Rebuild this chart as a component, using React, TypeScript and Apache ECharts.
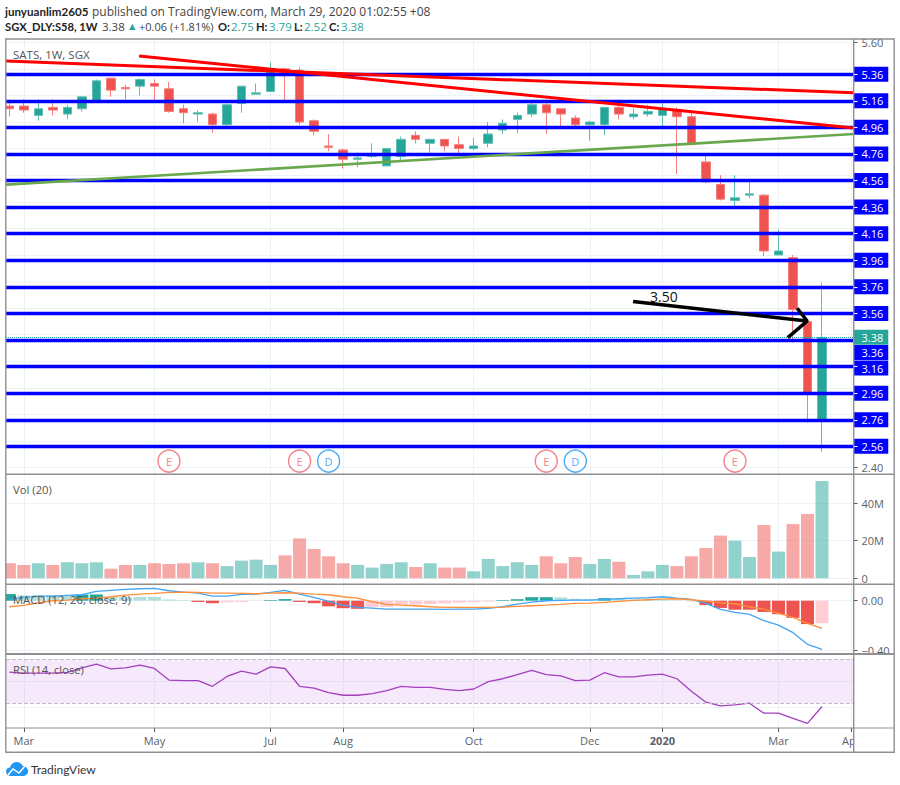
import React, { useEffect, useRef } from "react";
import * as echarts from "echarts";

const FONT = "'Open Sans', 'Noto Sans', sans-serif";
const BOLD_FONT = "Lato, 'Noto Sans', sans-serif";
const UP = "#26a69a";
const DOWN = "#ef5350";

const candleOpen = [5.12,5.12,5.05,5.11,5.06,5.10,5.15,5.33,5.26,5.27,5.29,5.25,5.10,5.06,5.06,4.98,5.14,5.21,5.23,5.40,5.39,5.01,4.82,4.79,4.72,4.74,4.67,4.74,4.90,4.84,4.87,4.83,4.80,4.84,4.94,5.02,5.06,5.13,5.10,5.03,4.98,4.98,5.11,5.04,5.06,5.05,5.09,5.04,4.70,4.53,4.41,4.45,4.45,4.00,3.98,3.50,2.75];
const candleClose = [5.10,5.09,5.10,5.09,5.11,5.19,5.31,5.24,5.25,5.32,5.27,5.08,5.07,5.07,4.98,5.13,5.27,5.22,5.39,5.37,5.00,4.93,4.81,4.72,4.73,4.76,4.80,4.87,4.87,4.87,4.82,4.80,4.82,4.91,4.99,5.05,5.13,5.07,5.06,4.98,5.00,5.11,5.06,5.06,5.08,5.10,5.04,4.83,4.55,4.42,4.43,4.46,4.03,4.03,3.59,2.96,3.38];
const candleLow = [5.04,5.07,5.01,5.05,5.02,5.08,5.15,5.19,5.17,5.20,5.15,5.07,4.99,5.00,4.92,4.95,5.07,5.21,5.23,5.16,4.98,4.90,4.78,4.65,4.66,4.73,4.67,4.70,4.84,4.77,4.78,4.76,4.79,4.81,4.91,4.92,5.04,4.91,4.97,4.96,4.86,4.90,5.02,5.02,5.04,4.96,4.61,4.83,4.54,4.41,4.37,4.43,3.99,4.00,3.34,2.74,2.52];
const candleHigh = [5.17,5.17,5.17,5.17,5.13,5.19,5.32,5.33,5.28,5.33,5.32,5.30,5.13,5.09,5.07,5.14,5.27,5.29,5.45,5.41,5.41,5.02,4.91,4.80,4.77,4.84,4.80,4.89,4.93,4.87,4.87,4.89,4.88,5.00,5.02,5.07,5.15,5.15,5.10,5.05,5.01,5.11,5.17,5.10,5.13,5.14,5.11,5.08,4.75,4.60,4.60,4.56,4.46,4.19,4.00,3.51,3.79];

const volumeM = [8.0,7.1,8.0,7.1,8.5,8.0,8.5,5.1,7.1,7.1,8.0,7.6,8.0,8.5,8.0,6.5,9.4,9.9,7.1,12.2,21.2,15.6,11.7,8.0,7.1,5.7,7.6,8.5,6.0,8.0,5.7,5.7,3.7,10.3,6.5,8.5,7.1,11.7,8.0,11.3,7.6,10.3,8.8,1.8,3.7,7.1,6.5,11.7,16.1,22.7,20.0,11.3,28.3,14.2,28.8,34.2,51.7];

const macdHist = [.053,.043,.043,.045,.045,.048,.05,.03,.027,.03,.03,.01,.005,-.01,-.02,-.013,-.01,-.002,.005,.013,-.01,-.02,-.045,-.06,-.065,-.05,-.05,-.035,-.03,-.027,-.022,-.016,-.012,-.008,.005,.012,.028,.028,.027,.015,.013,.02,.013,.01,.008,.005,.003,-.005,-.035,-.058,-.072,-.072,-.09,-.108,-.137,-.187,-.18];
const macdHistDark = [1,0,0,0,0,1,1,0,0,0,0,0,0,1,1,0,0,0,1,1,1,1,1,1,1,0,0,0,0,0,0,0,0,0,1,1,1,1,0,0,0,1,0,0,0,0,0,0,1,1,1,1,1,1,1,1,0];
const macdLine = [.011,.027,.037,.037,.043,.048,.075,.083,.091,.096,.099,.08,.069,.061,.037,.037,.051,.053,.067,.083,.053,.027,-.005,-.037,-.053,-.059,-.067,-.067,-.067,-.067,-.069,-.067,-.067,-.061,-.048,-.027,-.011,0,.003,.005,.005,.011,.016,.021,.024,.032,.021,.011,-.021,-.069,-.093,-.109,-.16,-.195,-.256,-.349,-.389];
const macdSignal = [-.048,-.037,-.016,0,.005,.016,.021,.032,.045,.053,.059,.067,.069,.067,.061,.061,.059,.056,.061,.064,.061,.053,.048,.032,.021,-.008,-.029,-.035,-.04,-.048,-.053,-.053,-.053,-.053,-.051,-.045,-.04,-.035,-.029,-.021,-.019,-.013,-.005,.003,.008,.013,.016,.008,-.003,-.016,-.024,-.048,-.069,-.101,-.133,-.181,-.221];

const rsiValues = [58.2,57.3,57.3,57.3,57.9,62.1,65.5,61.2,62.1,64.5,61.5,50.9,50.3,50.3,45.2,54.2,59.1,56.4,63,61.5,45.2,43.6,39.4,37,37,38.5,41.2,45.2,44.2,44.2,42.4,41.2,42.7,49.4,52.1,55.8,59.7,55.8,54.8,50.3,50.9,57.6,53.9,53.9,55.5,56.4,52.1,40.6,30.6,27.3,28.2,29.7,20.6,20.6,15.8,11.2,26.7];

const monthTicks = [1,10,18,23,32,40,45,53,58];
const monthLabels = ["Mar","May","Jul","Aug","Oct","Dec","2020","Mar","Apr"];
const priceTicks = [5.6,5.4,5.2,5.0,4.8,4.6,4.4,4.2,4.0,3.8,3.6,3.4,3.2,3.0,2.8,2.6,2.4];
const priceLabels = [5.6,2.4];
const levelValues = [5.36,5.16,4.96,4.76,4.56,4.36,4.16,3.96,3.76,3.56,3.36,3.16,2.96,2.76,2.56];
const levelLabelShift = [0,0,0,0,0,0,0,0,0,0,12.5,1.5,0,0,0];
const lastPrice = 3.38;
const volumeTicks = [0,20,40];
const macdTicks = [0,-0.4];
const rsiGrid = [26,50];
const rsiBand = [30,70];

const redTrendA = [[-0.23,5.459],[58.17,5.22]];
const redTrendB = [[8.94,5.497],[58.17,4.955]];
const greenTrend = [[-0.23,4.529],[58.17,4.91]];
const arrowShaft = [[42.98,3.649],[54.98,3.503]];
const arrowHead = [[54.29,3.599],[54.98,3.503],[53.64,3.378]];
const eventMarks = [["E",11],["E",20],["D",22],["E",37],["D",39],["E",50]] as [string, number][];
const eventPrice = 2.449;

const CLOUD =
  "M5 15 C2 15 0 13 0 10.3 C0 7.6 2 6 4.4 6 C5.2 2.6 8 0 11.6 0 C14.6 0 17.2 1.8 18.4 4.4 C21.6 4.6 24 7 24 10 C24 12.8 21.8 15 19 15 Z";
echarts.graphic.registerShape("tvLogo", (echarts.graphic as any).extendPath(CLOUD, {}));

const GRID_COLOR = "#edf2f7";
const L = 6, R = 900 - 853.5;

function xAxisFor(gridIndex: number, labelled: boolean) {
  return {
    type: "value", gridIndex, min: -0.23, max: 58.17,
    axisLine: { show: false, onZero: false },
    axisTick: { show: labelled, customValues: monthTicks, length: 4, lineStyle: { color: "#555" } },
    axisLabel: labelled ? {
      show: true, customValues: monthTicks, color: "#5b5f6b", fontFamily: FONT, fontSize: 11, margin: 7,
      formatter: (v: number) => {
        const s = monthLabels[monthTicks.indexOf(v)];
        return s === "2020" ? "{b|2020}" : s;
      },
      rich: { b: { fontWeight: "bold", fontSize: 11, color: "#5b5f6b", fontFamily: FONT } },
    } : { show: false },
    splitLine: { show: true, lineStyle: { color: GRID_COLOR, width: 1 } },
  };
}

function yAxisFor(gridIndex: number, min: number, max: number, ticks: number[], labels: number[], fmt: (v: number) => string) {
  return {
    type: "value", gridIndex, min, max, position: "right",
    axisLine: { show: false, onZero: false },
    axisTick: { show: gridIndex !== 3, customValues: ticks, length: 4, lineStyle: { color: "#555" } },
    axisLabel: { show: gridIndex !== 3, customValues: labels, color: "#5b5f6b", fontFamily: FONT, fontSize: 11, margin: 8, formatter: fmt },
    splitLine: { show: true, lineStyle: { color: GRID_COLOR, width: 1 } },
  };
}

function trend(name: string, data: number[][], color: string, width: number) {
  return {
    type: "line", name, xAxisIndex: 0, yAxisIndex: 0, data, z: 6, showSymbol: false, symbol: "none", silent: true,
    lineStyle: { color, width }, clip: true,
  };
}

export default function App() {
  const ref = useRef<HTMLDivElement>(null);
  useEffect(() => {
    const chart = echarts.init(ref.current!, undefined, { renderer: "svg" });
    const idx = (a: number[]) => a.map((v, i) => [i, v]);
    const sep = (y: number, w = 1.5) => ({
      type: "line", z: 60, shape: { x1: 6, y1: y, x2: 894, y2: y }, style: { stroke: "#8f9094", lineWidth: w },
    });
    const txt = (x: number, y: number, text: string, fill = "#444", fontSize = 11.5, fontFamily = FONT, fontWeight = "normal") => ({
      type: "text", z: 70, x, y, style: { text, fill, fontSize, fontFamily, fontWeight, verticalAlign: "middle" },
    });
    const bold = (x: number, y: number, text: string, size = 11.2) => txt(x, y, text, "#222", size, BOLD_FONT, "bold");
    chart.setOption({
      animation: false,
      backgroundColor: "#fff",
      grid: [
        { left: L, right: R, top: 39.5, height: 434.5 },
        { left: L, right: R, top: 475, height: 109 },
        { left: L, right: R, top: 585, height: 68.5 },
        { left: L, right: R, top: 654.5, height: 73.5 },
      ],
      xAxis: [xAxisFor(0, false), xAxisFor(1, false), xAxisFor(2, false), xAxisFor(3, true)],
      yAxis: [
        yAxisFor(0, 2.352, 5.621, priceTicks, priceLabels, (v) => v.toFixed(2)),
        yAxisFor(1, -3.03, 54.9, volumeTicks, volumeTicks, (v) => (v === 0 ? "0" : v + "M")),
        yAxisFor(2, -0.4224, 0.1256, macdTicks, macdTicks, (v) => (v < 0 ? "\u2212" + Math.abs(v).toFixed(2) : v.toFixed(2))),
        yAxisFor(3, 7, 74.3, rsiGrid, rsiGrid, (v) => String(v)),
        {
          type: "value", gridIndex: 0, min: 2.352, max: 5.621, position: "right", z: 8,
          axisLine: { show: false, onZero: false }, splitLine: { show: false }, axisLabel: { show: false },
          axisTick: { show: true, customValues: levelValues.filter((v) => v !== 3.36), length: 4, lineStyle: { color: "#fff" } },
        },
      ],
      series: [
        {
          type: "line", name: "levels", xAxisIndex: 0, yAxisIndex: 0, data: [], z: 1, silent: true,
          markLine: {
            silent: true, symbol: "none", animation: false,
            lineStyle: { color: "#0000ff", width: 3.4, type: "solid" },
            data: levelValues.map((v, i) => ({
              yAxis: v,
              label: {
                show: true, position: "end", distance: 0, formatter: v.toFixed(2), offset: [0, levelLabelShift[i]],
                color: "#fff", backgroundColor: "#0000ff", fontFamily: FONT, fontSize: 11, lineHeight: 13,
                padding: [1, 5, 1, 8],
              },
            })),
          },
        },
        {
          type: "candlestick", name: "SATS", xAxisIndex: 0, yAxisIndex: 0, z: 3, barWidth: 9,
          encode: { x: 0, y: [1, 2, 3, 4] },
          data: candleOpen.map((o, i) => [i, o, candleClose[i], candleLow[i], candleHigh[i]]),
          itemStyle: { color: UP, color0: DOWN, borderColor: "#5fbfb5", borderColor0: "#f47f7c", borderWidth: 1 },
        },
        {
          type: "line", name: "last", xAxisIndex: 0, yAxisIndex: 0, data: [], z: 5, silent: true,
          markLine: {
            silent: true, symbol: "none", animation: false,
            lineStyle: { color: UP, width: 1, type: "dotted" },
            data: [{
              yAxis: lastPrice,
              label: {
                show: true, position: "end", distance: 0, formatter: lastPrice.toFixed(2),
                color: "#fff", backgroundColor: UP, fontFamily: FONT, fontSize: 11, lineHeight: 13,
                padding: [1, 5, 1, 8],
              },
            }],
          },
        },
        trend("trend a", redTrendA, "#ff0000", 3),
        trend("trend b", redTrendB, "#ff0000", 3),
        trend("trend c", greenTrend, "#6aa84f", 2.6),
        trend("arrow", arrowShaft, "#000", 3.5),
        trend("arrow head", arrowHead, "#000", 3.5),
        {
          type: "scatter", name: "events", xAxisIndex: 0, yAxisIndex: 0, z: 7, symbol: "circle", symbolSize: 22,
          data: eventMarks.map(([k, i]) => ({
            value: [i, eventPrice],
            itemStyle: { color: "#fff", borderColor: k === "E" ? "#f0626d" : "#2196f3", borderWidth: 1.4 },
            label: { show: true, position: "inside", formatter: k, color: k === "E" ? "#f0626d" : "#2196f3", fontFamily: FONT, fontSize: 11 },
          })),
        },
        {
          type: "bar", name: "Vol", xAxisIndex: 1, yAxisIndex: 1, barWidth: 13,
          data: volumeM.map((v, i) => ({
            value: [i, v],
            itemStyle: { color: candleClose[i] >= candleOpen[i] ? UP : DOWN, opacity: 0.5 },
          })),
        },
        {
          type: "bar", name: "Hist", xAxisIndex: 2, yAxisIndex: 2, barWidth: 13,
          data: macdHist.map((v, i) => ({
            value: [i, v],
            itemStyle: {
              color: v >= 0 ? (macdHistDark[i] ? UP : "#b2dfdb") : (macdHistDark[i] ? DOWN : "#ffcdd2"),
            },
          })),
        },
        {
          type: "line", name: "MACD", xAxisIndex: 2, yAxisIndex: 2, data: idx(macdLine), showSymbol: false, symbol: "none",
          lineStyle: { color: "#42a5f5", width: 1.4 }, z: 4,
        },
        {
          type: "line", name: "Signal", xAxisIndex: 2, yAxisIndex: 2, data: idx(macdSignal), showSymbol: false, symbol: "none",
          lineStyle: { color: "#ff8f3a", width: 1.4 }, z: 4,
        },
        {
          type: "line", name: "RSI", xAxisIndex: 3, yAxisIndex: 3, data: idx(rsiValues), showSymbol: false, symbol: "none",
          lineStyle: { color: "#a63fbf", width: 1.3 }, z: 4,
          markArea: {
            silent: true,
            itemStyle: { color: "rgba(156,39,220,0.1)" },
            data: [[{ yAxis: rsiBand[1] }, { yAxis: rsiBand[0] }]],
          },
          markLine: {
            silent: true, symbol: "none", label: { show: false },
            lineStyle: { color: "#bdbdc4", type: "dashed", width: 1 },
            data: rsiBand.map((v) => ({ yAxis: v })),
          },
        },
      ],
      graphic: {
        elements: [
          { type: "rect", z: 40, shape: { x: 854, y: 654.5, width: 40, height: 97 }, style: { fill: "#fff" } },
          { type: "rect", z: 40, shape: { x: 0, y: 39, width: 5.5, height: 714 }, style: { fill: "#fff" } },
          { type: "rect", z: 60, shape: { x: 5.8, y: 39, width: 888.4, height: 713.2 }, style: { fill: "none", stroke: "#8f9094", lineWidth: 1.4 } },
          { type: "line", z: 60, shape: { x1: 853.7, y1: 39, x2: 853.7, y2: 752 }, style: { stroke: "#8f9094", lineWidth: 1.4 } },
          sep(474.3), sep(584.2), sep(654, 2), sep(728, 1.2),
          bold(5, 11, "junyuanlim2605", 11.6),
          txt(92, 11, "published on TradingView.com, March 29, 2020 01:02:55 +08", "#444", 12),
          bold(5, 26, "SGX_DLY:S58, 1W"),
          txt(102, 26, "3.38"),
          txt(127, 26, "\u25B2", UP, 10.5),
          txt(139, 26, "+0.06 (+1.81%)", "#444", 11),
          bold(218, 26, "O:"), txt(231, 26, "2.75", UP),
          bold(256, 26, "H:"), txt(269, 26, "3.79", UP),
          bold(294, 26, "L:"), txt(304, 26, "2.52", UP),
          bold(329, 26, "C:"), txt(341, 26, "3.38", UP),
          txt(13, 54, "SATS, 1W, SGX", "#555", 11.5),
          txt(13, 489, "Vol (20)", "#555", 11.3),
          txt(13, 599, "MACD (12, 26, close, 9)", "#555", 11.2),
          txt(13, 669, "RSI (14, close)", "#555", 11.2),
          txt(650, 296, "3.50", "#111", 14),
          { type: "tvLogo", z: 70, x: 6, y: 762, scaleX: 0.92, scaleY: 0.93, style: { fill: "#2196f3" } },
          { type: "polyline", z: 71, shape: { points: [[8, 775], [13, 769], [19, 773], [25, 766]] }, style: { stroke: "#fff", fill: "none", lineWidth: 1.5 } },
          txt(31, 769, "TradingView", "#333", 12, BOLD_FONT),
        ],
      },
    });
    return () => chart.dispose();
  }, []);
  return <div ref={ref} style={{ position: "fixed", left: 0, top: 0, width: 900, height: 785, background: "#fff" }} />;
}
